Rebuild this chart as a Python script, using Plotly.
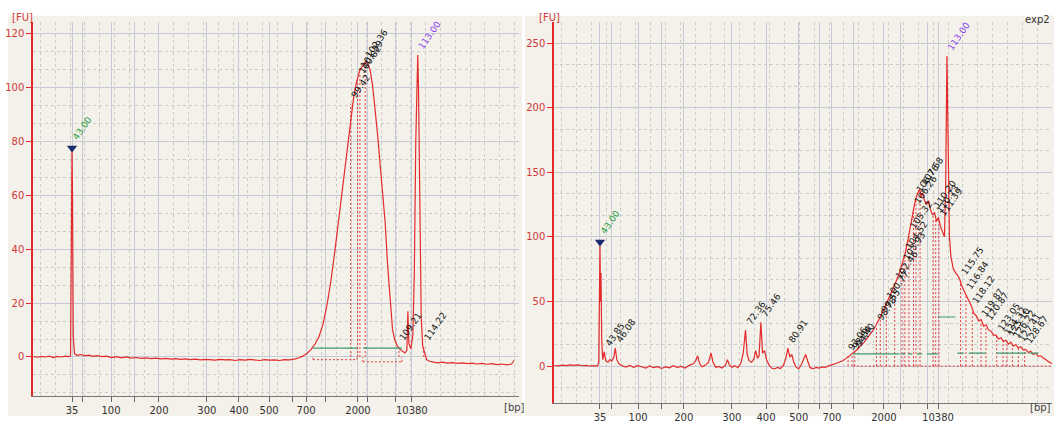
import numpy as np
import plotly.graph_objects as go

# ---------------- run 1 (left panel) : migration time [s] vs fluorescence [FU] ----------------
left_time = [35.2, 36.0, 36.8, 37.6, 38.4, 39.2, 40.0, 40.8, 41.6, 42.4, 42.7, 42.85, 43.0, 43.1, 43.25,
             43.5, 44.0, 44.8, 45.6, 46.4, 47.2, 48.0, 49.0, 50.0, 51.0, 52.0, 53.0, 54.0, 55.0, 56.0,
             57.0, 58.0, 59.0, 60.0, 61.0, 62.0, 63.0, 64.0, 65.0, 66.0, 67.0, 68.0, 69.0, 70.0, 71.0,
             72.0, 73.0, 74.0, 75.0, 76.0, 77.0, 78.0, 79.0, 80.0, 81.0, 82.0, 83.0, 84.0, 85.0, 86.0,
             87.0, 88.0, 89.0, 89.8, 90.6, 91.4, 92.2, 93.0, 93.8, 94.6, 95.4, 96.2, 97.0, 97.8, 98.6,
             99.4, 100.0, 100.6, 101.2, 101.8, 102.4, 102.9, 103.4, 103.9, 104.4, 104.9, 105.4, 105.9,
             106.4, 106.9, 107.4, 107.9, 108.4, 108.9, 109.4, 109.9, 110.4, 110.8, 111.0, 111.2, 111.6,
             112.0, 112.3, 112.6, 112.85, 113.0, 113.15, 113.4, 113.7, 114.0, 114.4, 114.8, 115.4, 116.2,
             117.0, 118.0, 119.0, 120.0, 121.0, 122.0, 123.0, 124.0, 125.0, 126.0, 127.0, 128.0, 129.0,
             130.0, 131.0, 132.0, 132.5]
left_fu = [0.1, -0.1, 0.2, 0.0, 0.3, -0.2, 0.2, 0.0, 0.3, 0.1, 0.4, 30, 77, 60, 8,
           1.2, 0.6, 0.9, 0.4, 0.7, 0.2, 0.5, 0.1, 0.3, -0.2, 0.1, -0.3, 0.0, -0.4, -0.2,
           -0.5, -0.3, -0.6, -0.4, -0.7, -0.5, -0.8, -0.6, -0.9, -0.7, -1.0, -0.8, -1.1, -0.9, -1.0,
           -1.2, -0.9, -1.1, -1.0, -1.3, -1.0, -1.2, -0.9, -1.1, -1.3, -1.0, -1.2, -1.1, -1.3, -1.0,
           -1.1, -0.8, -0.3, 0.4, 1.4, 2.8, 4.8, 7.5, 12, 19, 28, 39, 51, 63, 75,
           88, 96, 102, 106, 108, 109.5, 109, 106, 100, 92, 82, 71, 60,
           50, 34, 20, 10, 6, 4, 2.8, 2.0, 1.5, 2.5, 17, 5, 3,
           8, 30, 80, 108, 112, 100, 55, 15, 4, 1, -1, -1.6, -1.9,
           -2.2, -1.9, -2.3, -2.1, -2.4, -2.2, -2.5, -2.3, -2.6, -2.4, -2.7, -2.5, -2.8,
           -2.6, -2.9, -2.6, -1.3]

left_bp_time = [43.0, 45.2, 50.9, 55.6, 60.6, 70.3, 76.8, 82.9, 87.7, 90.4, 94.4, 100.9, 102.9, 108.4, 111.8]
left_peak_time = [99.42, 100.82, 101.29, 102.36, 109.21, 114.22]
left_peak_fu = [94, 103, 105, 109, 4, 4]
left_marker_fu = [77.5, 112]

# ---------------- run 2 (right panel) ----------------
right_time = [33.8, 34.6, 35.4, 36.2, 37.0, 37.8, 38.6, 39.4, 40.2, 41.0, 41.8, 42.5, 42.75, 42.9, 43.0,
              43.1, 43.2, 43.35, 43.55, 43.85, 44.15, 44.6, 45.0, 45.4, 45.8, 46.08, 46.4, 46.8, 47.4,
              48.2, 49.0, 49.8, 50.6, 51.4, 52.2, 53.0, 53.8, 54.6, 55.4, 56.2, 57.0, 57.8, 58.6, 59.4,
              60.2, 61.0, 61.8, 62.3, 62.7, 63.1, 63.6, 64.3, 64.9, 65.4, 65.8, 66.4, 67.0, 67.6, 68.3,
              68.7, 69.1, 69.6, 70.2, 70.8, 71.4, 71.9, 72.36, 72.7, 73.1, 73.6, 74.1, 74.4, 74.8, 75.1,
              75.46, 75.8, 76.2, 76.6, 77.1, 77.6, 78.2, 78.8, 79.4, 80.0, 80.5, 80.91, 81.3, 81.7, 82.1,
              82.6, 83.1, 83.6, 84.1, 84.5, 84.9, 85.4, 86.0, 86.6, 87.2, 87.8, 88.4, 89.0, 89.6, 90.2,
              90.8, 91.4, 92.0, 92.6, 93.2, 93.8, 94.4, 95.0, 95.6, 96.2, 96.8, 97.4, 98.0, 98.6, 99.2,
              99.8, 100.4, 101.0, 101.6, 102.2, 102.8, 103.4, 104.0, 104.5, 105.0, 105.5, 106.0, 106.5,
              107.0, 107.5, 107.8, 108.1, 108.5, 108.9, 109.3, 109.7, 110.1, 110.5, 110.9, 111.3, 111.7,
              112.1, 112.5, 112.75, 112.9, 113.0, 113.1, 113.25, 113.5, 113.8, 114.3, 114.8, 115.2, 115.6,
              116.0, 116.5, 117.0, 117.5, 118.0, 118.4, 118.9, 119.4, 119.9, 120.4, 120.9, 121.4, 121.9,
              122.4, 122.9, 123.4, 123.9, 124.4, 124.9, 125.4, 125.9, 126.4, 126.9, 127.4, 127.9, 128.4,
              128.9, 129.4, 129.9, 130.4, 130.9, 131.4, 131.9, 132.4, 132.9, 133.4, 133.9, 134.2]
right_fu = [0.5, 0.2, 0.8, 0.4, 1.0, 0.6, 0.9, 0.3, 0.6, 0.1, 0.4, 0.0, 3, 60, 93,
            50, 72, 20, 5, 11, 4, 3, 5, 4, 7, 14, 5, 2, 0.5,
            -0.8, 0.5, -1.0, 0.3, -0.5, -1.6, 0.2, -1.2, -0.4, -1.8, -0.6, -1.3, 0.4, -0.9, -0.2,
            -1.5, 0.6, 1.8, 4, 8, 2, -0.5, 0.8, 3, 10, 3, -1.0, -0.2, -1.4, 0.5,
            5, 1, -0.8, 0.4, -1.2, 2, 10, 28, 9, 4, 3, 6, 12, 6, 8,
            34, 10, 12, 5, 1, -1.5, -2.2, -1.0, -1.8, 0.5, 6, 14, 7, 9, 3,
            -1, -2.0, 1, 5, 9, 4, -1.2, -2.0, -1.0, -1.6, -0.6, -0.9, 0.2, 0.8, 1.5,
            2.2, 3.5, 4.2, 5.8, 7.5, 9, 11, 13, 16, 18, 21, 24, 27, 31, 35,
            40, 45, 50, 55, 60, 66, 72, 79, 86, 95, 106, 116, 126,
            133, 137, 131, 134, 128, 125, 128, 121, 117, 119, 112, 115, 108,
            104, 100, 140, 220, 240, 215, 150, 100, 85, 75, 72, 70, 67,
            62, 58, 54, 49, 46, 41, 39, 35, 36, 31, 32, 28, 27,
            24, 24, 21, 22, 19, 20, 17, 18.5, 15.5, 16.5, 14, 15, 12.5,
            13, 10.5, 11.5, 9, 10, 7.5, 8, 6.5, 5, 4, 2.5, 2]

right_bp_time = [43.0, 45.4, 50.7, 55.5, 59.9, 69.6, 76.5, 83.1, 87.2, 89.8, 94.2, 100.3, 103.7, 109.0, 111.2]
right_peak_time = [43.85, 46.08, 72.36, 75.46, 80.91, 93.06, 93.84, 94.40, 98.78, 99.55, 100.77, 102.46,
                   103.93, 104.52, 105.32, 106.26, 106.76, 107.58, 110.20, 110.73, 111.39, 115.75, 116.84,
                   118.12, 119.87, 120.87, 123.05, 124.32, 125.10, 126.22, 127.41, 128.67]
right_peak_fu = [11, 14, 28, 34, 14, 8, 9, 11, 31, 37, 48, 63,
                 78, 86, 102, 121, 130, 136, 118, 114, 112, 66, 55,
                 44, 34, 31, 23, 20, 19, 17, 15, 13]
right_marker_fu = [96, 240]

bp_labels = ["35", "", "100", "", "200", "300", "400", "500", "", "700", "", "2000", "", "", "10380"]
marker_time = [43.0, 113.0]

# integration regions: (start, end, level)
left_regions = [(91.8, 100.7, 3.3), (101.9, 109.8, 3.3)]
left_region_floor = [(91.8, 100.7, -1.0), (101.9, 109.8, -1.8)]
right_regions = [(94.0, 103.4, 9.4), (103.7, 104.6, 9.4), (105.1, 106.0, 9.4), (107.0, 108.0, 9.4),
                 (109.0, 111.2, 9.4), (111.2, 114.7, 38), (115.1, 116.4, 10), (117.4, 120.8, 10),
                 (123.0, 129.0, 10), (129.5, 131.5, 10)]

# ---------------- styling ----------------
W, H = 1054, 423
RED = "#e4292b"
FONT = "DejaVu Sans"
GRID = "#c5cad4"
MINOR = "#cbcbc8"


def px(v):
    return v / W


def py(v):
    return 1 - v / H


fig = go.Figure()


def add_run(xa, ya, t, fu, peak_t, peak_fu, marker_fu, regions, floors, dash_from):
    fig.add_trace(go.Scatter(x=t, y=fu, mode="lines", line=dict(color=RED, width=1.2),
                             xaxis=xa, yaxis=ya, hoverinfo="skip"))
    # dashed peak drop lines
    xs, ys = [], []
    for pt, pf in zip(peak_t, peak_fu):
        if pt >= dash_from:
            xs += [pt, pt, None]
            ys += [0, pf, None]
    fig.add_trace(go.Scatter(x=xs, y=ys, mode="lines", line=dict(color=RED, width=0.9, dash="2px,2px"),
                             xaxis=xa, yaxis=ya, hoverinfo="skip"))
    # region baselines
    gx, gy = [], []
    for a, b, lv in regions:
        gx += [a, b, None]
        gy += [lv, lv, None]
    fig.add_trace(go.Scatter(x=gx, y=gy, mode="lines", line=dict(color="#3d9b6e", width=1.2),
                             xaxis=xa, yaxis=ya, hoverinfo="skip"))
    fx, fy = [], []
    for a, b, lv in floors:
        fx += [a, b, None, a, a, None, b, b, None]
        fy += [lv, lv, None, lv, 0, None, lv, 0, None]
    if fx:
        fig.add_trace(go.Scatter(x=fx, y=fy, mode="lines", line=dict(color=RED, width=0.9, dash="2px,2px"),
                                 xaxis=xa, yaxis=ya, hoverinfo="skip"))
    # lower marker triangle
    fig.add_trace(go.Scatter(x=[marker_time[0]], y=[marker_fu[0]], mode="markers",
                             marker=dict(symbol="triangle-down", size=9, color="#1c2a6b"),
                             xaxis=xa, yaxis=ya, hoverinfo="skip"))


add_run("x", "y", left_time, left_fu, left_peak_time, left_peak_fu, left_marker_fu,
        left_regions, left_region_floor, 99)
add_run("x2", "y2", right_time, right_fu, right_peak_time, right_peak_fu, right_marker_fu,
        right_regions, [(94.0, 134.0, 0)], 93)

annotations = []


def peak_labels(xr, yr, peak_t, peak_fu, marker_fu):
    for pt, pf in zip(peak_t, peak_fu):
        annotations.append(dict(x=pt, y=pf, xref=xr, yref=yr, text=f"{pt:.2f}", showarrow=False,
                                textangle=-55, xanchor="left", yanchor="bottom", xshift=-4, yshift=1,
                                font=dict(family=FONT, size=9, color="#111")))
    annotations.append(dict(x=marker_time[0], y=marker_fu[0], xref=xr, yref=yr, text=f"{marker_time[0]:.2f}",
                            showarrow=False, textangle=-55, xanchor="left", yanchor="bottom", xshift=-4,
                            yshift=4, font=dict(family=FONT, size=9, color="#1e9a3a")))
    annotations.append(dict(x=marker_time[1], y=marker_fu[1], xref=xr, yref=yr, text=f"{marker_time[1]:.2f}",
                            showarrow=False, textangle=-55, xanchor="left", yanchor="bottom", xshift=-4,
                            yshift=1, font=dict(family=FONT, size=9, color="#8a3cf0")))


peak_labels("x", "y", left_peak_time, left_peak_fu, left_marker_fu)
peak_labels("x2", "y2", right_peak_time, right_peak_fu, right_marker_fu)

for xx, txt in [(10, "[FU]"), (537, "[FU]")]:
    annotations.append(dict(x=px(xx), y=py(18), xref="paper", yref="paper", text=txt, showarrow=False,
                            xanchor="left", yanchor="middle", font=dict(family=FONT, size=10, color="#d0393c")))
for xx in [527, 1053]:
    annotations.append(dict(x=px(xx), y=py(414), xref="paper", yref="paper", text="[bp]", showarrow=False,
                            xanchor="right", yanchor="middle", font=dict(family=FONT, size=10, color="#444")))
annotations.append(dict(x=px(1052), y=py(20), xref="paper", yref="paper", text="exp2", showarrow=False,
                        xanchor="right", yanchor="middle", font=dict(family=FONT, size=10, color="#333")))


def xaxis(domain, rng, ticks, anchor):
    return dict(domain=domain, range=rng, tickmode="array", tickvals=ticks, ticktext=bp_labels,
                showgrid=True, gridcolor=GRID, gridwidth=1.2,
                minor=dict(tickmode="array", tickvals=list(np.arange(rng[0] + 1.5, rng[1], 3.0)),
                           showgrid=True, gridcolor=MINOR, griddash="dot", gridwidth=1),
                ticks="outside", ticklen=5, tickcolor="#666", showline=True, linecolor="#777", linewidth=1,
                tickfont=dict(family=FONT, size=10, color="#333"), zeroline=False, anchor=anchor)


def yaxis(domain, rng, step, anchor):
    return dict(domain=domain, range=rng, tickmode="linear", tick0=0, dtick=step,
                showgrid=True, gridcolor=GRID, gridwidth=1.2,
                minor=dict(tick0=0, dtick=step / 3, showgrid=True, gridcolor=MINOR, griddash="dot", gridwidth=1),
                ticks="outside", ticklen=5, tickcolor=RED, showline=True, linecolor=RED, linewidth=1.5,
                tickfont=dict(family=FONT, size=10, color="#d0393c"), zeroline=False, anchor=anchor)


fig.update_layout(
    width=W, height=H, margin=dict(l=0, r=0, t=0, b=0),
    paper_bgcolor="white", plot_bgcolor="#fbfaf6", showlegend=False,
    xaxis=xaxis([px(33), px(519)], [35.1, 133.5], left_bp_time, "y"),
    yaxis=yaxis([1 - 403 / H, 1 - 22 / H], [-14.6, 124.4], 20, "x"),
    xaxis2=xaxis([px(554), px(1052)], [33.72, 134.2], right_bp_time, "y2"),
    yaxis2=yaxis([1 - 410 / H, 1 - 22.7 / H], [-28.7, 266], 50, "x2"),
    annotations=annotations,
    shapes=[
        dict(type="rect", xref="paper", yref="paper", x0=px(8), x1=px(522), y0=0, y1=py(16),
             fillcolor="#f3f1ea", line=dict(width=0), layer="below"),
        dict(type="rect", xref="paper", yref="paper", x0=px(525), x1=1, y0=0, y1=py(16),
             fillcolor="#f3f1ea", line=dict(width=0), layer="below"),
    ],
)

fig.write_html("out.html")
